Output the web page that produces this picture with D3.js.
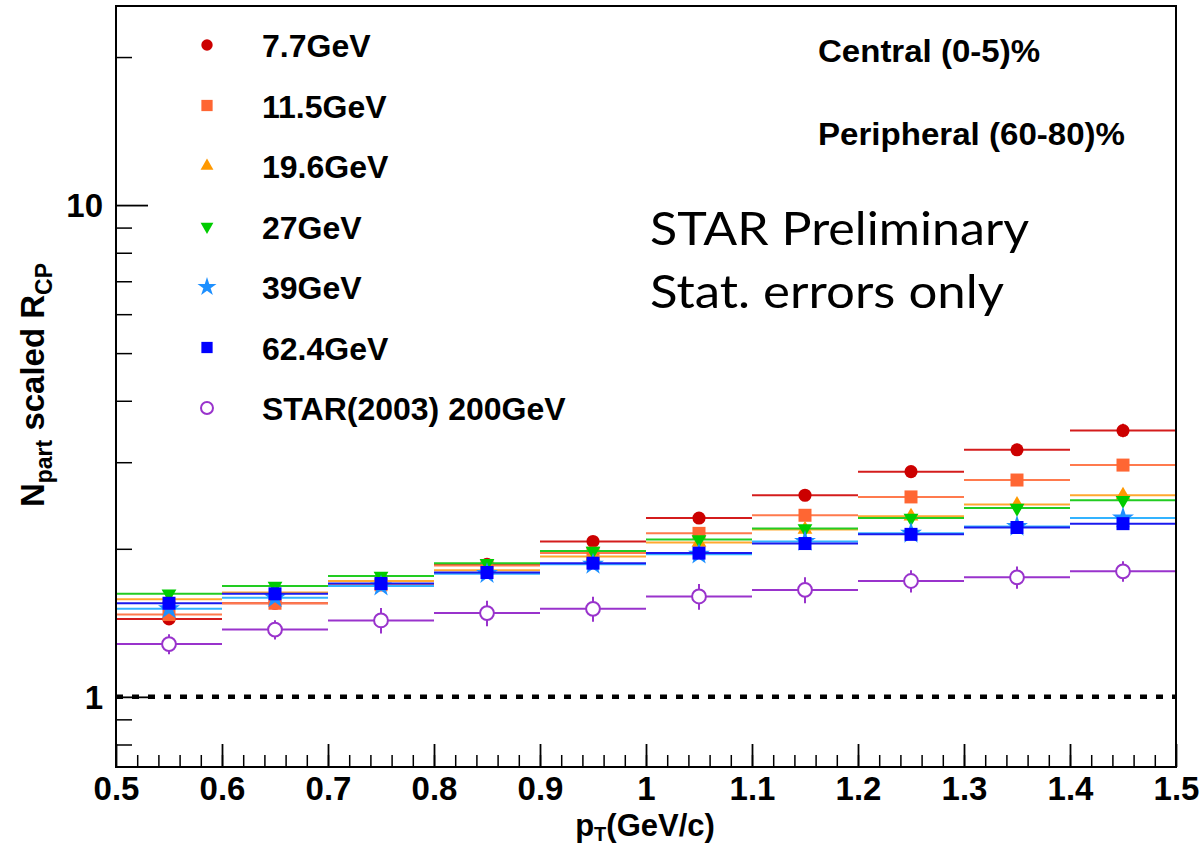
<!DOCTYPE html>
<html>
<head>
<meta charset="utf-8">
<script src="https://cdn.jsdelivr.net/npm/d3@7"></script>
<style>
body { margin: 0; background: #fff; }
svg { display: block; font-family: "Liberation Sans", Arial, sans-serif; }
</style>
</head>
<body>
<svg width="1201" height="847"></svg>
<script>
// pT bins (GeV/c)
var ptLow    = [0.5, 0.6, 0.7, 0.8, 0.9, 1.0, 1.1, 1.2, 1.3, 1.4];
var ptHigh   = [0.6, 0.7, 0.8, 0.9, 1.0, 1.1, 1.2, 1.3, 1.4, 1.5];
var ptCenter = [0.55, 0.65, 0.75, 0.85, 0.95, 1.05, 1.15, 1.25, 1.35, 1.45];

// Npart scaled Rcp, one array per beam energy
var rcp77  = [1.44, 1.55, 1.69, 1.86, 2.07, 2.31, 2.57, 2.87, 3.18, 3.48];
var rcp115 = [1.47, 1.55, 1.69, 1.85, 1.96, 2.15, 2.34, 2.55, 2.76, 2.96];
var rcp196 = [1.58, 1.63, 1.72, 1.81, 1.93, 2.06, 2.19, 2.33, 2.46, 2.57];
var rcp27  = [1.62, 1.68, 1.76, 1.87, 1.98, 2.09, 2.20, 2.31, 2.42, 2.51];
var rcp39  = [1.51, 1.59, 1.68, 1.78, 1.86, 1.95, 2.07, 2.15, 2.22, 2.31];
var rcp624 = [1.55, 1.62, 1.70, 1.79, 1.87, 1.96, 2.05, 2.14, 2.21, 2.25];
var rcp200 = [1.28, 1.37, 1.43, 1.48, 1.51, 1.60, 1.65, 1.72, 1.75, 1.80];

// stat. errors
var err77  = [0.03, 0.03, 0.035, 0.04, 0.04, 0.05, 0.06, 0.07, 0.09, 0.11];
var err115 = [0.025, 0.03, 0.03, 0.035, 0.04, 0.045, 0.05, 0.06, 0.07, 0.08];
var err196 = [0.02, 0.02, 0.025, 0.03, 0.03, 0.035, 0.04, 0.045, 0.05, 0.06];
var err27  = [0.02, 0.02, 0.02, 0.025, 0.03, 0.03, 0.035, 0.04, 0.045, 0.05];
var err39  = [0.02, 0.02, 0.02, 0.025, 0.03, 0.03, 0.035, 0.04, 0.045, 0.05];
var err624 = [0.02, 0.02, 0.02, 0.025, 0.025, 0.03, 0.03, 0.035, 0.04, 0.045];
var err200 = [0.06, 0.062, 0.085, 0.088, 0.088, 0.097, 0.10, 0.09, 0.092, 0.086];

var seriesNames = ["7.7GeV", "11.5GeV", "19.6GeV", "27GeV", "39GeV", "62.4GeV", "STAR(2003) 200GeV"];

// axis ticks
var xTickLabels = [0.5, 0.6, 0.7, 0.8, 0.9, 1.0, 1.1, 1.2, 1.3, 1.4, 1.5];
var yTickLabels = [1, 10];
var yMinorTicks = [0.8, 0.9, 2, 3, 4, 5, 6, 7, 8, 9, 20];

const padLeft = 116, padRight = 1176, padTop = 6, padBottom = 767;

// styles for each series, same order as seriesNames
const styles = [
    {color: "#cc0000", line: "#d41c1c", sym: d3.symbolCircle, size: 135, rot: 0},
    {color: "#ff6633", line: "#ff7a4d", sym: d3.symbolSquare, size: 169, rot: 0},
    {color: "#ff9900", line: "#ffa82e", sym: d3.symbolTriangle, size: 95, rot: 0},
    {color: "#00cc00", line: "#22cc22", sym: d3.symbolTriangle, size: 95, rot: 180},
    {color: "#1e90ff", line: "#33b3ff", sym: d3.symbolStar, size: 150, rot: 0},
    {color: "#0000ff", line: "#1a1aee", sym: d3.symbolSquare, size: 169, rot: 0},
    {color: "#9933cc", line: "#9933cc", sym: d3.symbolCircle, size: 150, rot: 0, open: true}
];

window.onload = function() {

    var svg = d3.select("svg");

    var x = d3.scaleLinear().domain([0.5, 1.5]).range([padLeft, padRight]);
    var y = d3.scaleLog().domain([0.72, 25.4]).range([padBottom, padTop]);

    var values = [rcp77, rcp115, rcp196, rcp27, rcp39, rcp624, rcp200];
    var errors = [err77, err115, err196, err27, err39, err624, err200];

    // y = 1 reference line
    svg.append("line")
        .attr("x1", padLeft).attr("x2", padRight)
        .attr("y1", y(1)).attr("y2", y(1))
        .attr("stroke", "#000")
        .attr("stroke-width", 4.5)
        .attr("stroke-dasharray", "7,9");

    // data
    values.forEach(function(vals, s) {
        var st = styles[s];
        var g = svg.append("g");
        var pts = vals.map(function(v, i) {
            return {lo: ptLow[i], hi: ptHigh[i], x: ptCenter[i], v: v, e: errors[s][i]};
        });

        g.selectAll("line.h").data(pts).enter().append("line")
            .attr("x1", d => x(d.lo)).attr("x2", d => x(d.hi))
            .attr("y1", d => y(d.v)).attr("y2", d => y(d.v))
            .attr("stroke", st.line).attr("stroke-width", 2);

        g.selectAll("line.v").data(pts).enter().append("line")
            .attr("x1", d => x(d.x)).attr("x2", d => x(d.x))
            .attr("y1", d => y(d.v - d.e)).attr("y2", d => y(d.v + d.e))
            .attr("stroke", st.line).attr("stroke-width", 2);

        g.selectAll("path").data(pts).enter().append("path")
            .attr("d", d3.symbol().type(st.sym).size(st.size))
            .attr("transform", d => "translate(" + x(d.x) + "," + y(d.v) + ") rotate(" + st.rot + ")")
            .attr("fill", st.open ? "#fff" : st.color)
            .attr("stroke", st.open ? st.color : "none")
            .attr("stroke-width", 2);
    });

    // frame
    svg.append("rect")
        .attr("x", padLeft).attr("y", padTop)
        .attr("width", padRight - padLeft).attr("height", padBottom - padTop)
        .attr("fill", "none").attr("stroke", "#000").attr("stroke-width", 2);

    // x axis
    var xAxis = svg.append("g")
        .attr("transform", "translate(0," + padBottom + ")")
        .call(d3.axisBottom(x).tickValues(xTickLabels).tickSize(-23).tickFormat(d => String(d)));
    xAxis.select(".domain").remove();
    xAxis.selectAll("line").attr("stroke", "#000").attr("stroke-width", 1.8);
    xAxis.selectAll("text")
        .attr("y", 33).attr("dy", null)
        .attr("font-size", 33).attr("font-weight", "bold").attr("fill", "#000");

    var xMinor = svg.append("g")
        .attr("transform", "translate(0," + padBottom + ")")
        .call(d3.axisBottom(x).tickValues(d3.range(0.52, 1.5, 0.02)).tickSize(-12).tickFormat(""));
    xMinor.select(".domain").remove();
    xMinor.selectAll("line").attr("stroke", "#000").attr("stroke-width", 1.5);

    // y axis
    var yAxis = svg.append("g")
        .attr("transform", "translate(" + padLeft + ",0)")
        .call(d3.axisLeft(y).tickValues(yTickLabels).tickSize(-32).tickPadding(13).tickFormat(d3.format("d")));
    yAxis.select(".domain").remove();
    yAxis.selectAll("line").attr("stroke", "#000").attr("stroke-width", 1.8);
    yAxis.selectAll("text")
        .attr("dy", "0.36em")
        .attr("font-size", 33).attr("font-weight", "bold").attr("fill", "#000");

    var yMinor = svg.append("g")
        .attr("transform", "translate(" + padLeft + ",0)")
        .call(d3.axisLeft(y).tickValues(yMinorTicks).tickSize(-16).tickFormat(""));
    yMinor.select(".domain").remove();
    yMinor.selectAll("line").attr("stroke", "#000").attr("stroke-width", 1.5);

    // axis titles
    var xt = svg.append("text")
        .attr("x", 645).attr("y", 836)
        .attr("text-anchor", "middle")
        .attr("font-size", 31).attr("font-weight", "bold");
    xt.append("tspan").text("p");
    xt.append("tspan").attr("font-size", 20).attr("dy", 5).text("T");
    xt.append("tspan").attr("dy", -5).text("(GeV/c)");

    var yt = svg.append("text")
        .attr("transform", "translate(44,385) rotate(-90)")
        .attr("text-anchor", "middle")
        .attr("font-size", 33).attr("font-weight", "bold");
    yt.append("tspan").text("N");
    yt.append("tspan").attr("font-size", 23).attr("dy", 8).text("part");
    yt.append("tspan").attr("dy", -8).text(" scaled R");
    yt.append("tspan").attr("font-size", 23).attr("dy", 8).text("CP");

    // legend
    var leg = svg.append("g");
    seriesNames.forEach(function(name, i) {
        var st = styles[i];
        var ly = 45 + i * 60.5;
        leg.append("path")
            .attr("d", d3.symbol().type(st.sym).size(st.size * 0.75))
            .attr("transform", "translate(207," + ly + ") rotate(" + st.rot + ")")
            .attr("fill", st.open ? "#fff" : st.color)
            .attr("stroke", st.open ? st.color : "none")
            .attr("stroke-width", 2);
        leg.append("text")
            .attr("x", 262).attr("y", ly + 12)
            .attr("font-size", 32).attr("font-weight", "bold")
            .text(name);
    });

    // labels
    svg.append("text").attr("x", 818).attr("y", 62)
        .attr("font-size", 32).attr("font-weight", "bold")
        .attr("textLength", 222).attr("lengthAdjust", "spacingAndGlyphs")
        .text("Central (0-5)%");
    svg.append("text").attr("x", 818).attr("y", 145)
        .attr("font-size", 32).attr("font-weight", "bold")
        .attr("textLength", 307).attr("lengthAdjust", "spacingAndGlyphs")
        .text("Peripheral (60-80)%");

    svg.append("text").attr("x", 650).attr("y", 245)
        .attr("font-family", "Lato, 'Open Sans', sans-serif")
        .attr("font-size", 46)
        .attr("textLength", 379).attr("lengthAdjust", "spacingAndGlyphs")
        .text("STAR Preliminary");
    svg.append("text").attr("x", 650).attr("y", 308)
        .attr("font-family", "Lato, 'Open Sans', sans-serif")
        .attr("font-size", 46)
        .attr("textLength", 354).attr("lengthAdjust", "spacingAndGlyphs")
        .text("Stat. errors only");
}
</script>
</body>
</html>
